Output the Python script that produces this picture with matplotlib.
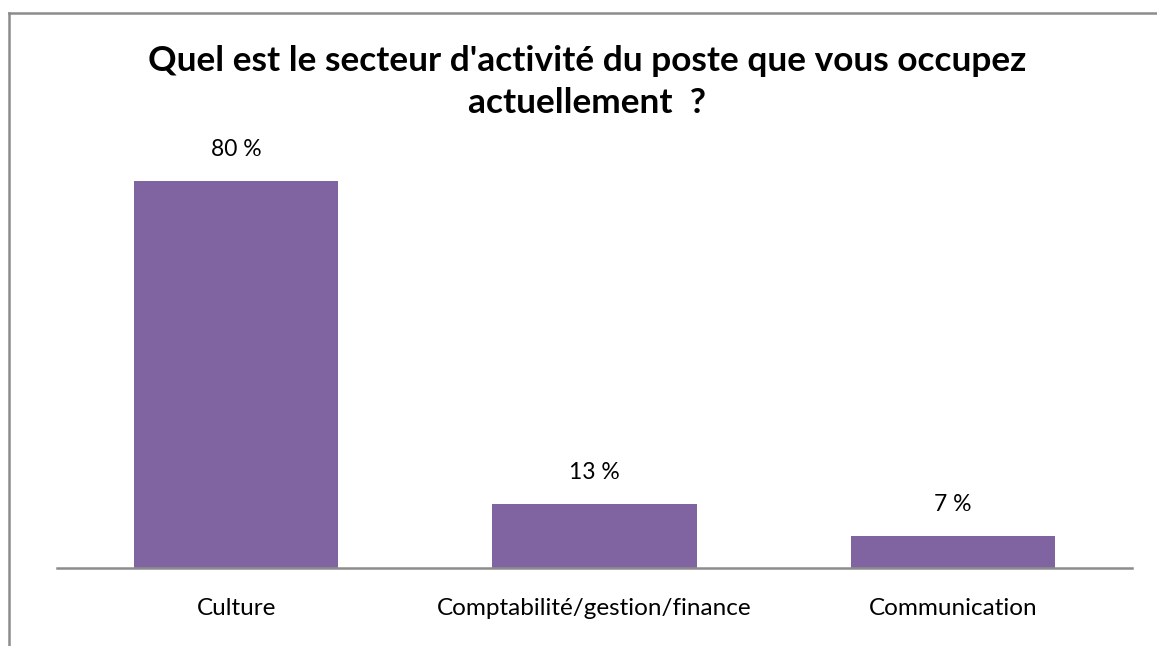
import matplotlib
matplotlib.use("Agg")
import matplotlib.pyplot as plt
from matplotlib.lines import Line2D

categories = ["Culture", "Comptabilité/gestion/finance", "Communication"]
values = [80, 13.3, 6.7]
value_labels = ["80 %", "13 %", "7 %"]
title = "Quel est le secteur d'activité du poste que vous occupez\nactuellement  ?"

W, H = 1157, 646
fig = plt.figure(figsize=(W / 100, H / 100), dpi=100)
plt.rcParams['font.family'] = ['Lato', 'DejaVu Sans']

ax_left, ax_right = 57 / W, 1132 / W
ax_bottom = (H - 568) / H
ax_height = 435.6 / H
ax = fig.add_axes([ax_left, ax_bottom, ax_right - ax_left, ax_height])

bar_color = "#8064A2"
x = range(len(categories))
bars = ax.bar(x, values, width=0.57, color=bar_color, zorder=2)
ax.set_xlim(-0.5, len(categories) - 0.5)
ax.set_ylim(0, 90)

for b, lab in zip(bars, value_labels):
    ax.annotate(lab, (b.get_x() + b.get_width() / 2, b.get_height()),
                xytext=(0, 17.5), textcoords="offset points",
                ha="center", va="baseline", fontsize=16.5, color="#000000")

ax.set_xticks(list(x))
ax.set_xticklabels(categories, fontsize=17.5)
ax.tick_params(axis="x", length=0, pad=21.5)
ax.set_yticks([])
for s in ["top", "right", "left"]:
    ax.spines[s].set_visible(False)
ax.spines["bottom"].set_color("#8c8c8c")
ax.spines["bottom"].set_linewidth(1.8)
ax.spines["bottom"].set_zorder(3)

fig.text(587 / W, 1 - 82 / H, title, ha="center", va="center",
         fontsize=25.4, fontweight="bold", linespacing=1.39)

# outer chart border (top and left visible)
fig.add_artist(Line2D([9 / W, 1.0], [1 - 13 / H, 1 - 13 / H],
                      transform=fig.transFigure, color="#8c8c8c", lw=1.8))
fig.add_artist(Line2D([9 / W, 9 / W], [1 - 13 / H, 0.0],
                      transform=fig.transFigure, color="#8c8c8c", lw=1.8))

fig.savefig("out.png", dpi=100)
